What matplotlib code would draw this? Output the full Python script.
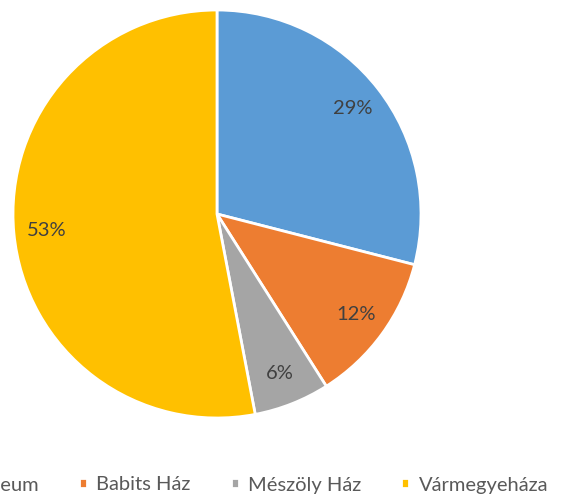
import matplotlib.pyplot as plt

# adatok
helyszinek = ['Wosinsky Mór Múzeum', 'Babits Ház', 'Mészöly Ház', 'Vármegyeháza']
aranyok = [29, 12, 6, 53]
szinek = ['#5B9BD5', '#ED7D31', '#A5A5A5', '#FFC000']

plt.rcParams['font.family'] = ['Lato', 'DejaVu Sans']

fig = plt.figure(figsize=(5.73, 5.03), dpi=100)
# kör helye pixelben: kozep (217, 214), sugar 204
ax = fig.add_axes([13 / 573, 85 / 503, 408 / 573, 408 / 503])

# kördiagram, óramutató járásával egyezően, 12 órától
wedges, _, pcts = ax.pie(aranyok, colors=szinek, startangle=90, counterclock=False,
                         autopct='%1.0f%%', pctdistance=0.84,
                         wedgeprops=dict(edgecolor='white', linewidth=2),
                         textprops=dict(color='#404040', fontsize=14.5))
ax.set_xlim(-1, 1)
ax.set_ylim(-1, 1)

# jelmagyarázat alul, bal széle kilóg (mint az eredetin)
fig.legend(wedges, helyszinek, loc='center right', bbox_to_anchor=(548 / 573, 18 / 503),
           ncol=4, frameon=False, fontsize=14.5, labelcolor='#595959',
           handlelength=0.4, handleheight=0.4, handletextpad=0.45,
           columnspacing=2.0, borderpad=0, borderaxespad=0)

fig.savefig('out.png', dpi=100)
